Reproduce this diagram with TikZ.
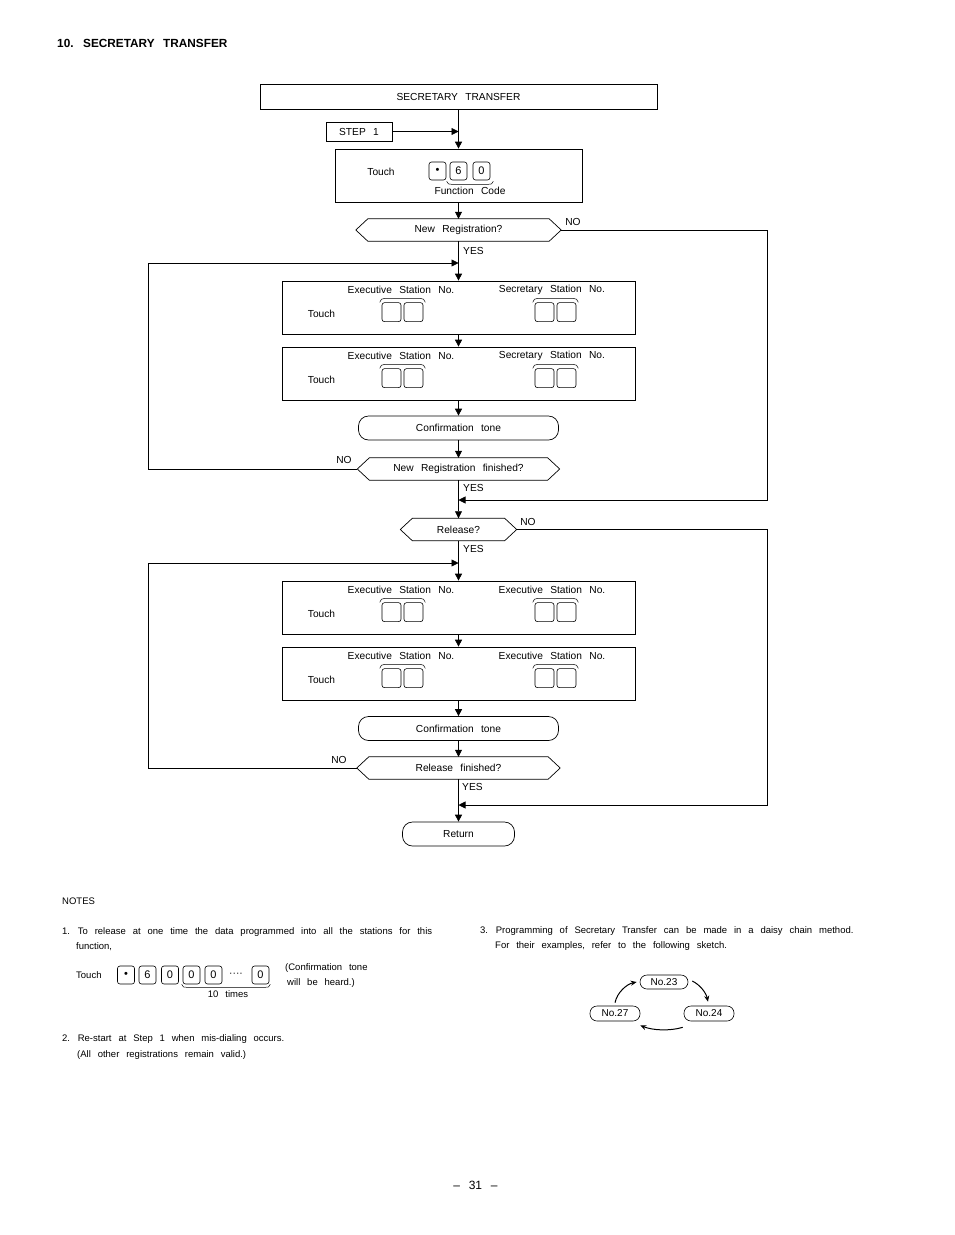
\documentclass[tikz,border=0pt]{standalone}
\usepackage{fontspec}
\setmainfont{Liberation Sans}[WordSpace=2.6]
\usetikzlibrary{arrows.meta,calc}
\tikzset{
  ln/.style={line width=0.7pt},
  box/.style={draw, ln, inner sep=0pt},
  txt/.style={font=\fontsize{10.2}{12}\selectfont, inner sep=0pt},
  note/.style={font=\fontsize{9.5}{12}\selectfont, inner sep=0pt, anchor=west},
  key/.style={draw, line width=0.6pt, rounded corners=2.5pt, minimum width=19pt, minimum height=19pt, inner sep=0pt, font=\fontsize{11}{12}\selectfont},
  nkey/.style={key, minimum width=17pt, minimum height=18pt},
  arr/.style={ln, -{Triangle[length=7pt,width=7pt]}},
  brc/.style={line width=0.5pt},
  dec/.style={txt, minimum height=22pt},
  term/.style={draw, ln, rounded corners=10pt, minimum height=24pt, txt},
  chain/.style={draw, line width=0.6pt, rounded corners=7pt, minimum width=48pt, minimum height=14pt, inner sep=0pt, font=\fontsize{10}{12}\selectfont},
  carr/.style={line width=1pt, -{Stealth[length=6pt,width=5pt]}},
}
\newcommand\decision[5]{%
  \node[dec, minimum width=#4pt] (#1) at (#2,#3) {#5};
  \draw[ln] (#1.west) -- ($(#1.north west)+(12,0)$) -- ($(#1.north east)+(-12,0)$) -- (#1.east)
     -- ($(#1.south east)+(-12,0)$) -- ($(#1.south west)+(12,0)$) -- cycle;
}
\newcommand\keypair[2]{%
  \node[key] (#1a) at (#2) {};
  \node[key] (#1b) at ($(#1a)+(22,0)$) {};
  \draw[brc] ($(#1a.north west)+(-2,0)$) .. controls +(1,-3) and +(-3,0) .. ($(#1a.north west)+(3,-4)$)
     -- ($(#1b.north east)+(-3,-4)$) .. controls +(3,0) and +(-1,-3) .. ($(#1b.north east)+(2,0)$);
}
\newcommand\stbox[4]{%
  \node[box, minimum width=353pt, minimum height=53pt] (#1) at (458.5,#2) {};
  \node[txt] (#1l) at ($(#1.north)+(-57.5,9.5)$) {#3};
  \node[txt] (#1r) at ($(#1.north)+(93.5,9.5)$) {#4};
  \node[txt] (#1t) at ($(#1.north)+(-137,33)$) {Touch};
  \keypair{#1p}{$(#1.north)+(-67,31.5)$}
  \keypair{#1q}{$(#1.north)+(86,31.5)$}
}
\begin{document}
\begin{tikzpicture}[x=1pt,y=-1pt]
\useasboundingbox (0,0) rectangle (954,1235);
\node[anchor=west, font=\fontsize{11.8}{14}\selectfont\bfseries, inner sep=0pt] (ttl) at (57,43) {10. SECRETARY TRANSFER};

% top
\node[box, txt, minimum width=397pt, minimum height=25pt] (st) at (458.5,96.5) {SECRETARY TRANSFER};
\node[box, txt, minimum width=66pt, minimum height=19pt] (s1) at (359,131.5) {STEP 1};
\node[box, minimum width=247pt, minimum height=53pt] (f) at (458.5,175.5) {};
\node[txt] (ft) at (381,172) {Touch};
\node[nkey] (fk1) at (437.5,171) {•};
\node[nkey] (fk2) at (458.5,171) {6};
\node[nkey] (fk3) at (481.5,171) {0};
\draw[brc] ($(fk2.south west)+(-3,1)$) .. controls +(1,3) and +(-3,0) .. ($(fk2.south west)+(2,4)$)
   -- ($(fk3.south east)+(-2,4)$) .. controls +(3,0) and +(-1,3) .. ($(fk3.south east)+(3,1)$);
\node[txt] (fc) at (470,191) {Function Code};

\decision{d1}{458.5}{230}{205}{New Registration?}
\stbox{b1}{307.5}{Executive Station No.}{Secretary Station No.}
\stbox{b2}{373.5}{Executive Station No.}{Secretary Station No.}
\node[term, minimum width=200pt] (c1) at (458.5,428) {Confirmation tone};
\decision{d2}{458.5}{469}{202}{New Registration finished?}
\decision{d3}{458.5}{529.5}{116}{Release?}
\stbox{b3}{607.5}{Executive Station No.}{Executive Station No.}
\stbox{b4}{673.5}{Executive Station No.}{Executive Station No.}
\node[term, minimum width=200pt] (c2) at (458.5,728.5) {Confirmation tone};
\decision{d4}{458.5}{768}{203}{Release finished?}
\node[term, minimum width=112pt] (ret) at (458.5,834) {Return};

% labels
\node[txt] (no1) at (573,222) {NO};
\node[txt, anchor=west] (yes1) at (463,251) {YES};
\node[txt] (no2) at (344,460) {NO};
\node[txt, anchor=west] (yes2) at (463,488) {YES};
\node[txt] (no3) at (528,522) {NO};
\node[txt, anchor=west] (yes3) at (463,549) {YES};
\node[txt] (no4) at (339,760) {NO};
\node[txt, anchor=west] (yes4) at (462,787) {YES};

% connectors
\coordinate (L) at (148,0);
\coordinate (R) at (767,0);
\coordinate (m0) at (458.5,131.5);
\coordinate (j1) at (458.5,263);
\coordinate (j2) at (458.5,500);
\coordinate (j3) at (458.5,563);
\coordinate (j4) at (458.5,805);
\draw[arr] (st.south) -- (f.north);
\draw[arr] (s1.east) -- (m0);
\draw[arr] (f.south) -- (d1.north);
\draw[arr] (d1.south) -- (b1.north);
\draw[arr] (b1.south) -- (b2.north);
\draw[arr] (b2.south) -- (c1.north);
\draw[arr] (c1.south) -- (d2.north);
\draw[arr] (d2.south) -- (d3.north);
\draw[arr] (d3.south) -- (b3.north);
\draw[arr] (b3.south) -- (b4.north);
\draw[arr] (b4.south) -- (c2.north);
\draw[arr] (c2.south) -- (d4.north);
\draw[arr] (d4.south) -- (ret.north);
\draw[arr] (d2.west) -- (d2.west -| L) |- (j1);
\draw[arr] (d4.west) -- (d4.west -| L) |- (j3);
\draw[arr] (d1.east) -- (d1.east -| R) |- (j2);
\draw[arr] (d3.east) -- (d3.east -| R) |- (j4);

% notes
\node[note] (notes) at (62,901) {NOTES};
\node[note] (n1a) at (62,932) {1. To release at one time the data programmed into all the stations for this};
\node[note] (n1b) at (76,947) {function,};
\node[note] (n1t) at (76,975) {Touch};
\node[nkey] (nk1) at (126,975) {•};
\node[nkey] (nk2) at (147.5,975) {6};
\node[nkey] (nk3) at (170,975) {0};
\node[nkey] (nk4) at (191.5,975) {0};
\node[nkey] (nk5) at (213.5,975) {0};
\node[txt] (ndots) at (236,975) {····};
\node[nkey] (nk6) at (260.5,975) {0};
\draw[brc] ($(nk4.south west)+(-1,0)$) .. controls +(1,3) and +(-3,0) .. ($(nk4.south west)+(4,3)$)
   -- ($(nk6.south east)+(-4,3)$) .. controls +(3,0) and +(-1,3) .. ($(nk6.south east)+(1,0)$);
\node[note, anchor=center] (ntimes) at (228,994) {10 times};
\node[note] (nconf1) at (285,968) {(Confirmation tone};
\node[note] (nconf2) at (287,983) {will be heard.)};
\node[note] (n2a) at (62,1039) {2. Re-start at Step 1 when mis-dialing occurs.};
\node[note] (n2b) at (77,1055) {(All other registrations remain valid.)};
\node[note] (n3a) at (480,931) {3. Programming of Secretary Transfer can be made in a daisy chain method.};
\node[note] (n3b) at (495,946) {For their examples, refer to the following sketch.};

% daisy chain
\node[chain] (n23) at (664,982) {No.23};
\node[chain, minimum width=50pt, minimum height=15pt] (n24) at (709,1013.5) {No.24};
\node[chain, minimum width=50pt, minimum height=15pt] (n27) at (615,1013.5) {No.27};
\draw[carr] ($(n27.north)+(0,-3)$) .. controls +(2,-10) and +(-10,2) .. ($(n23.west)+(-3,0)$);
\draw[carr] ($(n23.east)+(4,-1)$) .. controls +(8,4) and +(-2,-9) .. ($(n24.north)+(-1,-4)$);
\draw[carr] ($(n24.south west)+(-1,6)$) .. controls +(-13,4) and +(12,5) .. ($(n27.south east)+(0,4)$);

\node[font=\fontsize{12}{14}\selectfont, inner sep=0pt] (pg) at (475.5,1185) {– 31 –};
\end{tikzpicture}
\end{document}
